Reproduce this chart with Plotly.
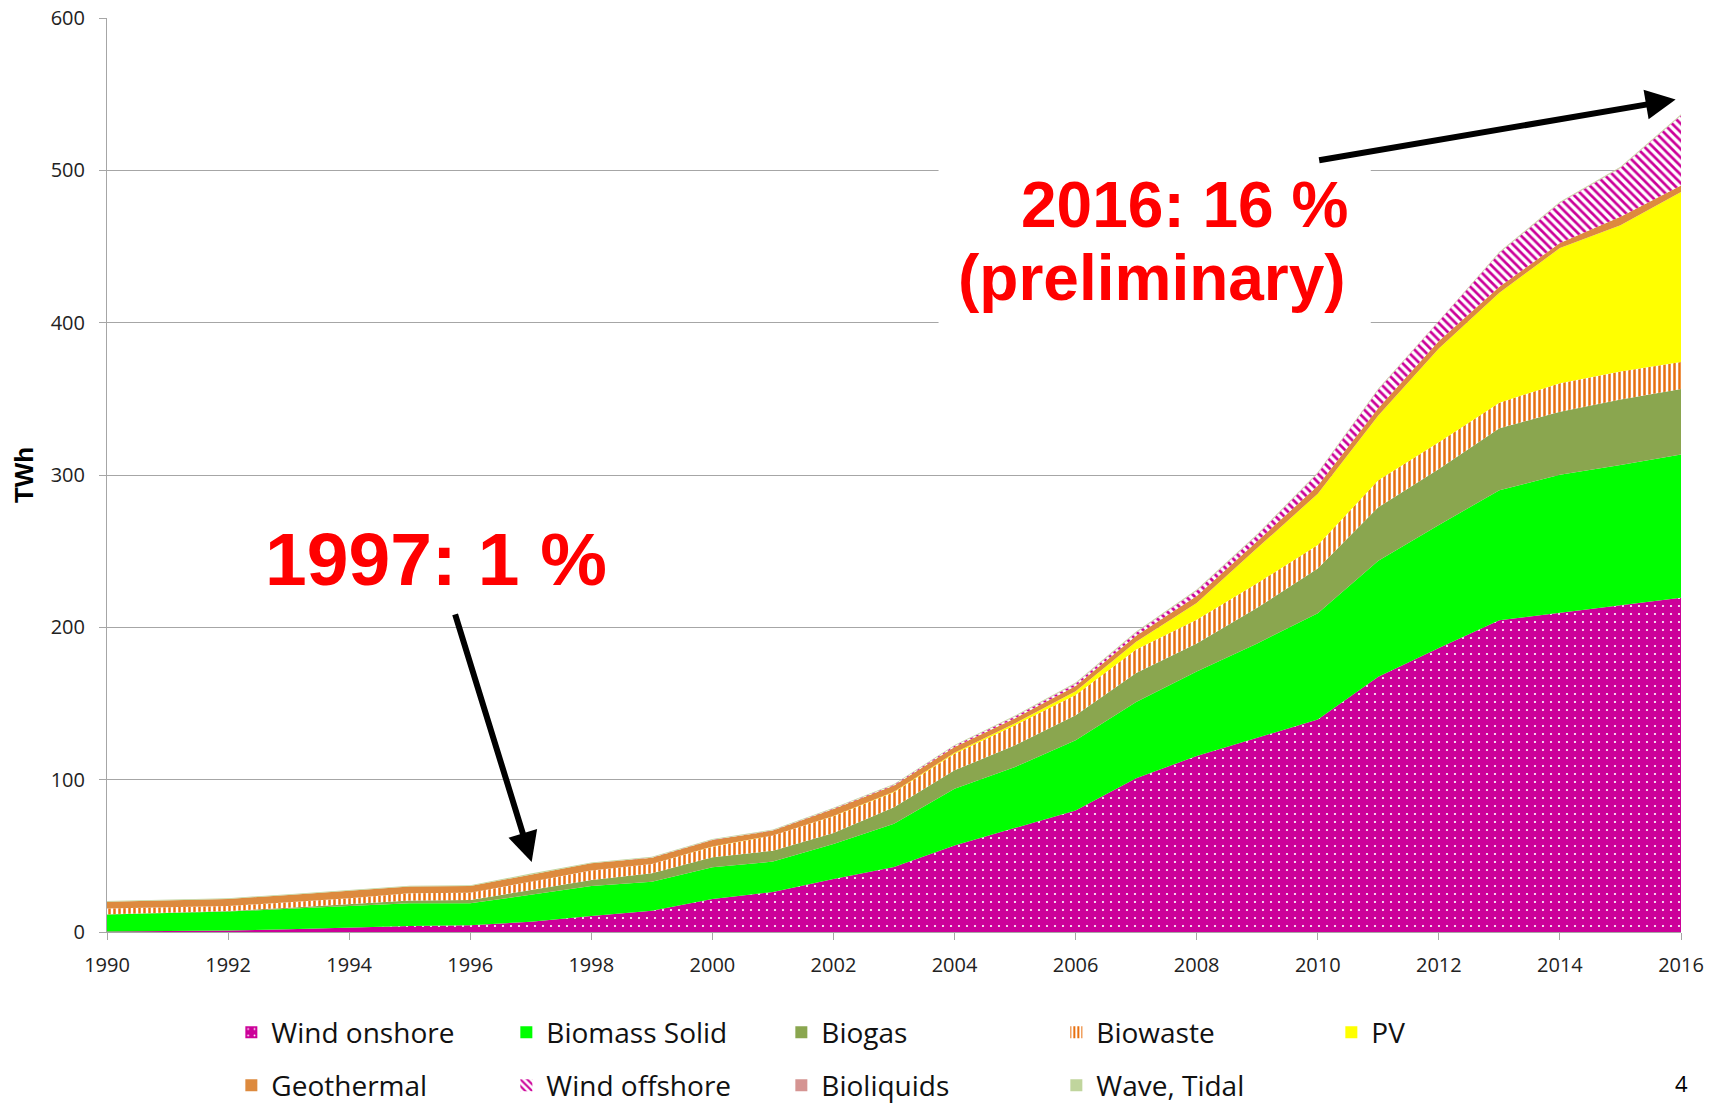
import plotly.graph_objects as go

years = list(range(1990, 2017))

wind_onshore = [0.4, 0.6, 1.0, 1.8, 2.8, 3.9, 4.4, 6.8, 10.5, 14.0, 21.7, 26.3, 34.8, 42.6,
                56.8, 68.5, 79.8, 101.0, 115.5, 127.5, 139.5, 167.5, 186.5, 204.6, 209.4, 214.3, 219.5]
biomass_solid = [11.1, 11.7, 12.4, 13.4, 14.3, 14.9, 14.4, 17.5, 19.7, 19.0, 20.8, 19.9, 23.0, 28.4,
                 37.2, 39.8, 46.0, 50.0, 55.5, 61.9, 69.8, 76.2, 80.7, 85.4, 90.8, 92.2, 94.0]
biogas = [0.2, 0.3, 0.4, 0.8, 1.3, 1.8, 2.2, 3.3, 3.9, 5.5, 6.5, 7.2, 7.2, 10.9,
          12.1, 14.3, 16.5, 19.0, 18.4, 23.4, 29.4, 35.2, 36.7, 40.7, 41.4, 43.0, 43.0]
biowaste = [3.8, 3.7, 3.3, 3.5, 3.7, 4.8, 4.8, 5.4, 6.2, 6.1, 7.0, 9.9, 11.0, 9.9,
            10.9, 13.1, 13.2, 15.5, 15.6, 16.2, 15.3, 17.6, 17.6, 16.8, 18.7, 18.5, 17.7]
pv = [0, 0, 0, 0, 0, 0, 0, 0, 0, 0, 0.1, 0.1, 0.2, 0.3,
      0.6, 1.3, 2.5, 5.0, 11.0, 23.0, 33.7, 42.5, 61.5, 72.1, 88.7, 96.0, 111.6]
geothermal = [4.4, 4.5, 4.6, 4.8, 4.8, 4.4, 4.4, 4.9, 4.8, 4.2, 4.3, 3.2, 4.6, 4.1,
              3.8, 3.3, 3.5, 4.0, 4.5, 4.5, 5.3, 5.0, 5.0, 4.0, 3.3, 5.6, 4.2]
wind_offshore = [0, 0, 0, 0, 0, 0, 0, 0, 0, 0.1, 0.1, 0.2, 0.3, 0.5,
                 0.8, 1.1, 1.5, 2.0, 3.5, 4.0, 8.0, 12.0, 12.5, 22.1, 26.3, 31.9, 46.0]
bioliquids = [0, 0, 0, 0, 0, 0, 0, 0, 0, 0, 0, 0, 0, 0,
              0.1, 0.2, 0.3, 0.3, 0.3, 0.3, 0.3, 0.3, 0.3, 0.3, 0.3, 0.3, 0.3]
wave_tidal = [0.5, 0.5, 0.5, 0.5, 0.5, 0.5, 0.5, 0.5, 0.5, 0.5, 0.5, 0.5, 0.5, 0.5,
              0.5, 0.5, 0.5, 0.5, 0.5, 0.5, 0.5, 0.5, 0.5, 0.5, 0.5, 0.5, 0.5]

names = ["Wind onshore", "Biomass Solid", "Biogas", "Biowaste", "PV",
         "Geothermal", "Wind offshore", "Bioliquids", "Wave, Tidal"]
series = [wind_onshore, biomass_solid, biogas, biowaste, pv,
          geothermal, wind_offshore, bioliquids, wave_tidal]

# (background colour, pattern shape, pattern colour, size, solidity)
styles = [
    ("#CC0099", ".", "white", 8, 0.06),
    ("#00FF00", "", None, 8, 0.3),
    ("#8AA64F", "", None, 8, 0.3),
    ("white", "|", "#E8700F", 5, 0.5),
    ("#FFFF00", "", None, 8, 0.3),
    ("#DD8A3E", "", None, 8, 0.3),
    ("white", "\\", "#CC0099", 6, 0.45),
    ("#D59492", "", None, 8, 0.3),
    ("#C0D59D", "", None, 8, 0.3),
]

fig = go.Figure()

for name, vals, (bg, shape, fg, size, sol) in zip(names, series, styles):
    if shape:
        patt = dict(shape=shape, fgcolor=fg, bgcolor=bg, size=size, solidity=sol, fillmode="replace")
    else:
        patt = None
    fig.add_trace(go.Scatter(
        x=years, y=vals, name=name, mode="lines", stackgroup="one",
        line=dict(width=0, color=bg if bg != "white" else fg),
        fillcolor=bg, fillpattern=patt,
        legendgroup=name, showlegend=False))

# legend-only square swatches
for i, (name, (bg, shape, fg, size, sol)) in enumerate(zip(names, styles)):
    pattern = dict(shape=shape, fgcolor=fg, bgcolor=bg, size=size, solidity=sol, fillmode="replace") if shape else None
    fig.add_trace(go.Bar(
        x=[years[0]], y=[0], name=name, legendgroup=name,
        marker=dict(color=bg, pattern=pattern, line=dict(width=0)),
        legend="legend" if i < 5 else "legend2", hoverinfo="skip"))

grey = "#A6A6A6"
label_font = dict(family="Open Sans, Noto Sans, sans-serif", size=20, color="#222222")
legend_font = dict(family="Open Sans, Noto Sans, sans-serif", size=28, color="#111111")
red_font = dict(family="Liberation Sans, Arial, sans-serif", color="#FF0000")

fig.update_layout(
    width=1726, height=1106,
    margin=dict(l=107, r=45, t=18, b=174, autoexpand=False),
    paper_bgcolor="white", plot_bgcolor="white",
    showlegend=True,
    legend=dict(orientation="h", x=0.079, y=-0.110, xanchor="left", yanchor="middle",
                font=legend_font, entrywidth=230, entrywidthmode="pixels",
                bgcolor="rgba(0,0,0,0)"),
    legend2=dict(orientation="h", x=0.079, y=-0.168, xanchor="left", yanchor="middle",
                 font=legend_font, entrywidth=230, entrywidthmode="pixels",
                 bgcolor="rgba(0,0,0,0)"),
    xaxis=dict(range=[1990, 2016], tick0=1990, dtick=2, showgrid=False, zeroline=False,
               showline=True, linecolor=grey, linewidth=1, ticks="outside", ticklen=7,
               tickcolor=grey, tickfont=label_font, ticklabelstandoff=8),
    yaxis=dict(range=[0, 600], dtick=100, showgrid=True, gridcolor=grey, gridwidth=1,
               zeroline=False, showline=True, linecolor=grey, linewidth=1, ticks="outside",
               ticklen=7, tickcolor=grey, tickfont=label_font, ticklabelstandoff=10,
               ticklabeloverflow="allow"),
    shapes=[
        # white text box behind the 2016 label, hides the grid lines
        dict(type="rect", xref="paper", yref="paper", x0=0.5283, x1=0.8029, y0=0.6477, y1=0.8556,
             fillcolor="white", line=dict(width=0), layer="above"),
    ],
    annotations=[
        dict(text="<b>TWh</b>", xref="paper", yref="paper", x=-0.0527, y=0.5,
             xanchor="center", yanchor="middle", textangle=-90, showarrow=False,
             font=dict(family="Liberation Sans, Arial, sans-serif", size=26, color="#000000")),
        dict(text="<b>1997: 1 %</b>", xref="paper", yref="paper", x=0.2093, y=0.408,
             xanchor="center", yanchor="middle", showarrow=False, font=dict(size=75, **red_font)),
        dict(text="<b>2016: 16 %</b>", xref="paper", yref="paper", x=0.7897, y=0.7954,
             xanchor="right", yanchor="middle", showarrow=False, font=dict(size=64, **red_font)),
        dict(text="<b>(preliminary)</b>", xref="paper", yref="paper", x=0.7884, y=0.7151,
             xanchor="right", yanchor="middle", showarrow=False, font=dict(size=64, **red_font)),
        dict(text="", xref="paper", yref="paper", x=0.2698, y=0.0766, ax=-77, ay=-249,
             showarrow=True, arrowhead=2, arrowsize=1.0, arrowwidth=6, arrowcolor="black",
             standoff=0),
        dict(text="", xref="paper", yref="paper", x=0.9966, y=0.9108, ax=-358, ay=61,
             showarrow=True, arrowhead=2, arrowsize=1.0, arrowwidth=6, arrowcolor="black",
             standoff=0),
        dict(text="4", xref="paper", yref="paper", x=1.0, y=-0.1466, xanchor="center",
             yanchor="top", showarrow=False,
             font=dict(family="Open Sans, sans-serif", size=22, color="#000000")),
    ],
)

# drop the default 8px page margin so the figure fills the window exactly
fig.write_html("out.html", config={"displayModeBar": False},
               post_script="document.body.style.margin='0';")
